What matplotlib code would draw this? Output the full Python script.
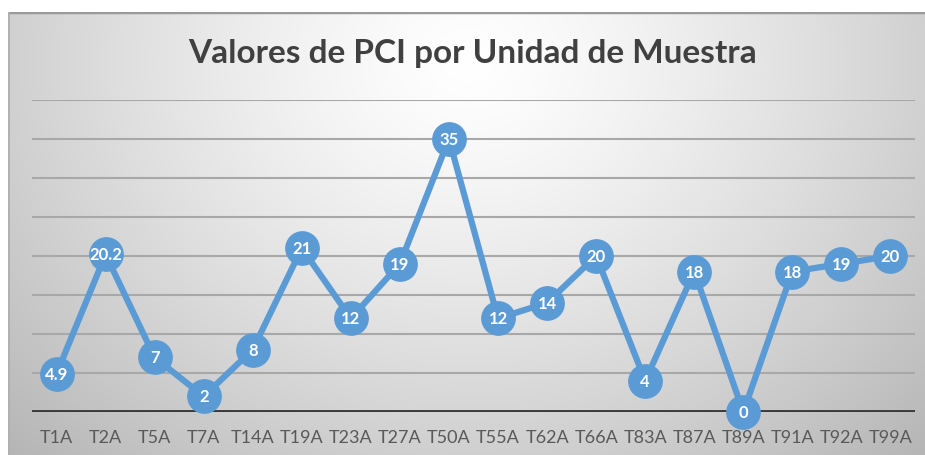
import matplotlib
matplotlib.use("Agg")
import matplotlib.pyplot as plt
import numpy as np

# data
samples = ["T1A", "T2A", "T5A", "T7A", "T14A", "T19A", "T23A", "T27A", "T50A",
           "T55A", "T62A", "T66A", "T83A", "T87A", "T89A", "T91A", "T92A", "T99A"]
pci = [4.9, 20.2, 7, 2, 8, 21, 12, 19, 35, 12, 14, 20, 4, 18, 0, 18, 19, 20]

BLUE = "#5B9BD5"
FONT = ["Lato", "DejaVu Sans"]

fig = plt.figure(figsize=(9.25, 4.56), dpi=100)
fig.patch.set_facecolor("white")

# radial gradient background of the chart frame
bg = fig.add_axes([8 / 925, 0, 1 - 8 / 925, 1 - 13 / 456])
bg.set_axis_off()
yy, xx = np.mgrid[0:443, 0:917]
cx, cy = 460, 50
d = np.sqrt(((xx - cx) / 620.0) ** 2 + ((yy - cy) / 520.0) ** 2)
shade = 1.0 - 0.27 * np.clip(d, 0, 1.2) ** 1.3
bg.imshow(np.dstack([shade] * 3), aspect="auto", extent=[0, 1, 0, 1],
          vmin=0, vmax=1, interpolation="bilinear")
bg.set_xlim(0, 1)
bg.set_ylim(0, 1)
bg.plot([0, 1], [1, 1], color="#9a9a9a", lw=2.5, transform=bg.transAxes)
bg.plot([0, 0], [0, 1], color="#b0b0b0", lw=2, transform=bg.transAxes)

ax = fig.add_axes([32 / 925, 1 - 413 / 456, (915 - 32) / 925, (413 - 101) / 456])
ax.patch.set_alpha(0)
x = np.arange(len(samples))
ax.set_xlim(-0.5, len(samples) - 0.5)
ax.set_ylim(0, 40)

for y in range(5, 45, 5):
    ax.axhline(y, color="#a8a8a8", lw=1.5, zorder=1)
ax.axhline(0, color="#3a3a3a", lw=2.8, zorder=2)

ax.plot(x, pci, color=BLUE, lw=4.5, zorder=3, clip_on=False)
ax.plot(x, pci, "o", ms=24, color=BLUE, mec=BLUE, zorder=4, clip_on=False)
for xi, v in zip(x, pci):
    lab = f"{v:g}"
    ax.text(xi, v, lab, ha="center", va="center", color="white",
            fontsize=12, fontweight="bold", family=FONT, zorder=5)

for s in ax.spines.values():
    s.set_visible(False)
ax.set_yticks([])
ax.set_xticks(x)
ax.set_xticklabels(samples, family=FONT, fontsize=13, color="#595959")
ax.tick_params(axis="x", length=0, pad=12)

fig.text(0.511, 1 - 53 / 456, "Valores de PCI por Unidad de Muestra",
         ha="center", va="center", fontsize=24, fontweight="bold",
         color="#404040", family=FONT)

fig.savefig("out.png", dpi=100)
